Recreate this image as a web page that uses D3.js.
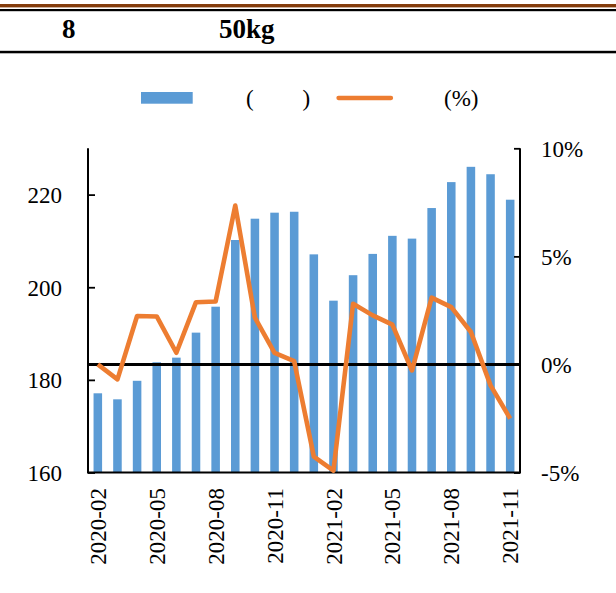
<!DOCTYPE html>
<meta charset="utf-8">
<style>
body { margin: 0; background: #fff; }
text { font-family: "Liberation Serif", "Times New Roman", serif; fill: #000; }
.title { font-size: 27px; font-weight: bold; }
.tick text { font-size: 23px; }
.legend text { font-size: 23px; }
</style>
<svg id="svg" width="616" height="593"></svg>
<script src="https://d3js.org/d3.v7.min.js"></script>
<script>
var months = ["2020-02","2020-03","2020-04","2020-05","2020-06","2020-07","2020-08","2020-09","2020-10","2020-11","2020-12",
              "2021-01","2021-02","2021-03","2021-04","2021-05","2021-06","2021-07","2021-08","2021-09","2021-10","2021-11"];
var price = [177.1, 175.8, 179.8, 183.8, 184.8, 190.2, 195.8, 210.2, 214.8, 216.1, 216.3,
             207.1, 197.1, 202.6, 207.2, 211.1, 210.5, 217.1, 222.7, 226.0, 224.4, 218.9];
var change = [0.0, -0.69, 2.24, 2.22, 0.54, 2.88, 2.91, 7.35, 2.16, 0.54, 0.15,
              -4.26, -4.91, 2.81, 2.27, 1.84, -0.28, 3.09, 2.65, 1.50, -0.97, -2.51];
var leftTicks = [160, 180, 200, 220];
var rightTicks = [-5, 0, 5, 10];
var xLabels = ["2020-02","2020-05","2020-08","2020-11","2021-02","2021-05","2021-08","2021-11"];

var svg = d3.select("svg");
var plotL = 88, plotR = 520, plotT = 148.3, plotB = 472.5;

// header
svg.append("rect").attr("x", 0).attr("y", 4).attr("width", 616).attr("height", 3.4).attr("fill", "#843c0c");
svg.append("rect").attr("x", 0).attr("y", 9).attr("width", 616).attr("height", 2.2).attr("fill", "#000");
svg.append("rect").attr("x", 0).attr("y", 50.8).attr("width", 616).attr("height", 2.5).attr("fill", "#000");
svg.append("text").attr("class", "title").attr("x", 62).attr("y", 38).text("8");
svg.append("text").attr("class", "title").attr("x", 219).attr("y", 38).text("50kg");

// legend
var lg = svg.append("g").attr("class", "legend");
lg.append("rect").attr("x", 141).attr("y", 92).attr("width", 51.7).attr("height", 11.7).attr("fill", "#5b9bd5");
lg.append("text").attr("x", 246).attr("y", 105.5).text("(");
lg.append("text").attr("x", 302.5).attr("y", 105.5).text(")");
lg.append("line").attr("x1", 338.5).attr("x2", 391).attr("y1", 98).attr("y2", 98)
  .attr("stroke", "#ed7d31").attr("stroke-width", 4.3).attr("stroke-linecap", "round");
lg.append("text").attr("x", 444).attr("y", 105.5).text("(%)");

var x = d3.scaleBand().domain(months).range([plotL, plotR]).paddingInner(0.565).paddingOuter(0.2825);
var y = d3.scaleLinear().domain([160, 230]).range([plotB, plotT]);
var y2 = d3.scaleLinear().domain([-5, 10]).range([plotB, plotT]);

// bars
svg.append("g").selectAll("rect")
  .data(price)
  .enter().append("rect")
  .attr("x", function(d, i) { return x(months[i]); })
  .attr("y", function(d) { return y(d); })
  .attr("width", x.bandwidth())
  .attr("height", function(d) { return plotB - y(d); })
  .attr("fill", "#5b9bd5");

// left axis
var ya = svg.append("g").attr("transform", "translate(" + plotL + ",0)")
  .call(d3.axisRight(y).tickValues(leftTicks).tickSize(7).tickFormat(d3.format("d")));
ya.select(".domain").remove();
ya.selectAll(".tick line").attr("stroke", "#000").attr("stroke-width", 1.8);
ya.selectAll(".tick text").attr("x", -26).attr("text-anchor", "end").attr("dy", "0.35em");
svg.append("line").attr("x1", plotL).attr("x2", plotL).attr("y1", plotT).attr("y2", plotB)
  .attr("stroke", "#000").attr("stroke-width", 2);

// right axis
var ra = svg.append("g").attr("transform", "translate(" + plotR + ",0)")
  .call(d3.axisLeft(y2).tickValues(rightTicks).tickSize(6).tickFormat(function(d) { return d + "%"; }));
ra.select(".domain").remove();
ra.selectAll(".tick line").attr("stroke", "#000").attr("stroke-width", 1.8);
ra.selectAll(".tick text").attr("x", 21).attr("text-anchor", "start").attr("dy", "0.35em");
svg.append("line").attr("x1", plotR).attr("x2", plotR).attr("y1", plotT).attr("y2", plotB)
  .attr("stroke", "#000").attr("stroke-width", 2);

// bottom axis
var xa = svg.append("g").attr("transform", "translate(0," + plotB + ")")
  .call(d3.axisBottom(x).tickValues(xLabels).tickSize(0));
xa.select(".domain").remove();
xa.selectAll(".tick text")
  .attr("transform", "rotate(-90)")
  .attr("text-anchor", "end")
  .attr("x", -15.5).attr("y", 0).attr("dy", "0.35em");
svg.append("line").attr("x1", plotL - 1).attr("x2", plotR + 1).attr("y1", plotB).attr("y2", plotB)
  .attr("stroke", "#000").attr("stroke-width", 2);

// zero line
svg.append("line").attr("x1", plotL).attr("x2", plotR).attr("y1", y2(0)).attr("y2", y2(0))
  .attr("stroke", "#000").attr("stroke-width", 3);

// change line
var line = d3.line()
  .x(function(d, i) { return x(months[i]) + x.bandwidth() / 2; })
  .y(function(d) { return y2(d); });
svg.append("path").datum(change)
  .attr("d", line)
  .attr("fill", "none")
  .attr("stroke", "#ed7d31")
  .attr("stroke-width", 4.6)
  .attr("stroke-linejoin", "round");
</script>
